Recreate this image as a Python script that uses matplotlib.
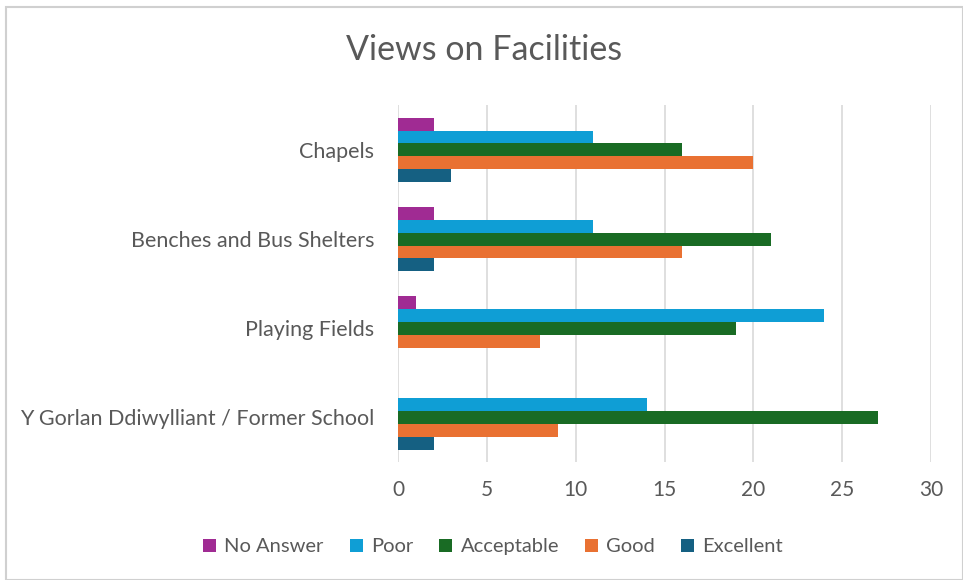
import matplotlib
matplotlib.use("Agg")
import matplotlib.pyplot as plt
from matplotlib.patches import Rectangle
import numpy as np

categories = ["Chapels", "Benches and Bus Shelters", "Playing Fields",
              "Y Gorlan Ddiwylliant / Former School"]
series = ["No Answer", "Poor", "Acceptable", "Good", "Excellent"]
no_answer = [2, 2, 1, 0]
poor = [11, 11, 24, 14]
acceptable = [16, 21, 19, 27]
good = [20, 16, 8, 9]
excellent = [3, 2, 0, 2]
colors = ["#A02B93", "#0F9ED5", "#196B24", "#E97132", "#156082"]
xticks = [0, 5, 10, 15, 20, 25, 30]

values = [no_answer, poor, acceptable, good, excellent]

plt.rcParams['font.family'] = ['Lato', 'DejaVu Sans']
text_color = "#595959"

fig = plt.figure(figsize=(9.63, 5.80), dpi=100)
fig.patches.append(Rectangle((0.006, 0.0), 0.994, 0.988, transform=fig.transFigure,
                             fill=False, edgecolor="#D0D0D0", linewidth=1.5))
ax = fig.add_axes([0.4133, 0.2034, 0.5535, 0.615])

y = np.arange(len(categories))
h = 0.144
for j, (name, vals, c) in enumerate(zip(series, values, colors)):
    ax.barh(y + (j - 2) * h, vals, height=h, color=c, label=name, zorder=3)

ax.set_xlim(0, 30)
ax.set_ylim(len(categories) - 0.5, -0.5)
ax.set_yticks(y)
ax.set_yticklabels(categories, fontsize=15.5, color=text_color)
ax.set_xticks(xticks)
ax.set_xticklabels([str(t) for t in xticks], fontsize=15, color=text_color)
ax.tick_params(axis='both', length=0)
ax.tick_params(axis='x', pad=13)
ax.tick_params(axis='y', pad=17)
ax.grid(axis='x', color="#D9D9D9", linewidth=1.2, zorder=0)
for s in ax.spines.values():
    s.set_visible(False)

fig.text(0.503, 0.913, "Views on Facilities", ha='center', va='center',
         fontsize=24.5, color=text_color)

handles, labels = ax.get_legend_handles_labels()
fig.legend(handles, labels, loc='center', bbox_to_anchor=(0.512, 0.057), ncol=5,
           frameon=False, fontsize=14.5, handlelength=0.65, handleheight=0.65,
           handletextpad=0.4, columnspacing=1.3, labelcolor=text_color)

fig.savefig("out.png", dpi=100)
